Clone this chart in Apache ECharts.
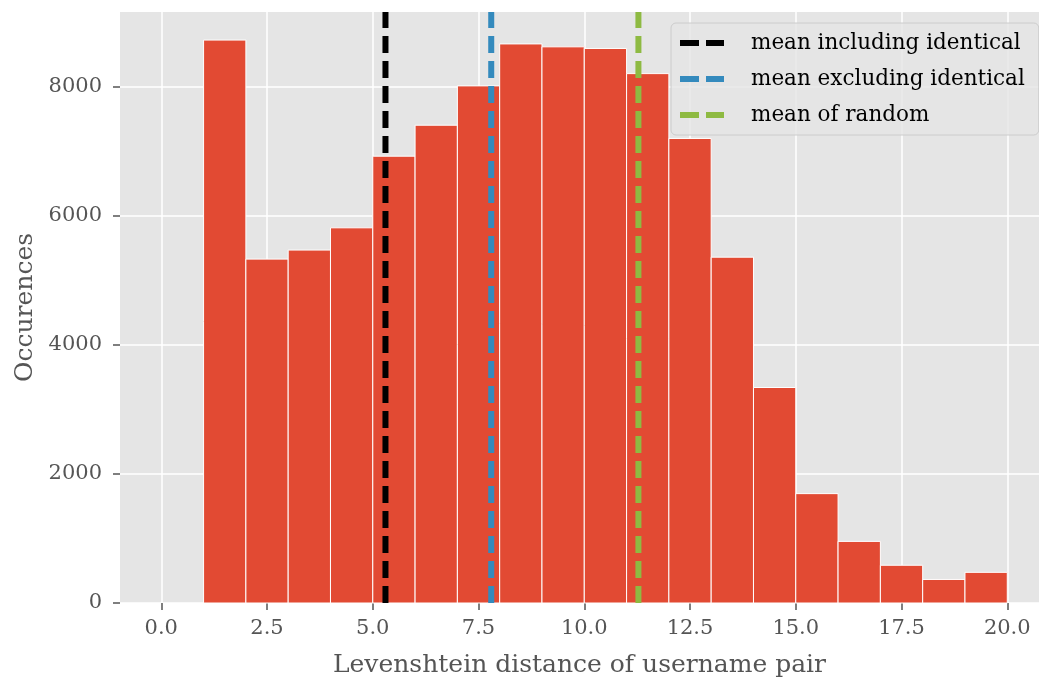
<!DOCTYPE html>
<html>
<head>
<meta charset="utf-8">
<script src="https://cdn.jsdelivr.net/npm/echarts@6/dist/echarts.min.js"></script>
<style>
  html, body { margin: 0; background: #fff; }
  #chart { width: 1039px; height: 680px; }
</style>
</head>
<body>
<div id="chart"></div>
<script>
// histogram bins (distance) and counts
const binStarts = [1, 2, 3, 4, 5, 6, 7, 8, 9, 10, 11, 12, 13, 14, 15, 16, 17, 18, 19];
const binEnds = [2, 3, 4, 5, 6, 7, 8, 9, 10, 11, 12, 13, 14, 15, 16, 17, 18, 19, 20];
const counts = [8725, 5330, 5470, 5815, 6925, 7405, 8015, 8665, 8620, 8595, 8205, 7200, 5360, 3340, 1695, 955, 585, 365, 475];

// mean lines
const meanNames = ["mean including identical", "mean excluding identical", "mean of random"];
const meanValues = [5.30, 7.80, 11.28];

const xTicks = [0, 2.5, 5, 7.5, 10, 12.5, 15, 17.5, 20];
const yTicks = [0, 2000, 4000, 6000, 8000];

const meanColors = ["#000000", "#348ABD", "#8EBA42"];
const font = "DejaVu Serif";
const yTop = 9160;
// two short dashes for the legend sample
const dashIcon = "path://M0,0H19V6H0Z M26,0H44V6H26Z";

let chart = echarts.init(document.getElementById("chart"));

let series = [
  {
    type: "custom",
    name: "hist",
    data: binStarts.map((s, i) => [s, binEnds[i], counts[i]]),
    encode: { x: [0, 1], y: 2 },
    renderItem(params, api) {
      let p0 = api.coord([api.value(0), api.value(2)]);
      let p1 = api.coord([api.value(1), 0]);
      return {
        type: "rect",
        shape: { x: p0[0], y: p0[1], width: p1[0] - p0[0], height: p1[1] - p0[1] },
        style: { fill: "#E24A33", stroke: "#ffffff", lineWidth: 1 },
      };
    },
    z: 2,
  },
];

meanValues.forEach((m, i) => {
  series.push({
    type: "line",
    name: meanNames[i],
    data: [[m, 0], [m, yTop]],
    showSymbol: false,
    symbol: "none",
    color: meanColors[i],
    lineStyle: { color: meanColors[i], width: 6, type: [17, 8] },
    z: 3,
  });
});

let option = {
  animation: false,
  grid: {
    left: 120, right: 0, top: 12, bottom: 77,
    outerBoundsMode: "none", containLabel: false,
    show: true, backgroundColor: "#E5E5E5", borderWidth: 0,
  },
  legend: {
    data: meanNames.map((n) => ({ name: n, icon: dashIcon })),
    orient: "vertical",
    left: 671,
    top: 23,
    backgroundColor: "rgba(229,229,229,0.8)",
    borderColor: "#cccccc",
    borderWidth: 1,
    borderRadius: 5,
    padding: [9, 14, 9, 9],
    itemWidth: 44,
    itemHeight: 6,
    itemGap: 14,
    textStyle: { fontFamily: font, fontSize: 21.5, color: "#000", lineHeight: 22, padding: [0, 0, 0, 22] },
  },
  xAxis: {
    type: "value",
    min: -0.976,
    max: 20.75,
    name: "Levenshtein distance of username pair",
    nameLocation: "middle",
    nameGap: 50,
    nameTextStyle: { fontFamily: font, fontSize: 25, color: "#555555" },
    axisLine: { show: false, onZero: false },
    axisTick: { show: true, length: 7, lineStyle: { color: "#555555", width: 1.5 }, customValues: xTicks },
    axisLabel: {
      fontFamily: font, fontSize: 21, color: "#555555", margin: 15,
      customValues: xTicks,
      formatter: (v) => v.toFixed(1),
    },
    splitLine: { show: true, lineStyle: { color: "#ffffff", width: 1.5 } },
  },
  yAxis: {
    type: "value",
    min: 0,
    max: yTop,
    name: "Occurences",
    nameLocation: "middle",
    nameGap: 79,
    nameTextStyle: { fontFamily: font, fontSize: 25, color: "#555555" },
    axisLine: { show: false, onZero: false },
    axisTick: { show: true, length: 7, lineStyle: { color: "#555555", width: 1.5 }, customValues: yTicks },
    axisLabel: {
      fontFamily: font, fontSize: 21, color: "#555555", margin: 18,
      customValues: yTicks,
      formatter: (v) => String(v),
    },
    splitLine: { show: true, lineStyle: { color: "#ffffff", width: 1.5 } },
  },
  series: series,
};

chart.setOption(option);
</script>
</body>
</html>
